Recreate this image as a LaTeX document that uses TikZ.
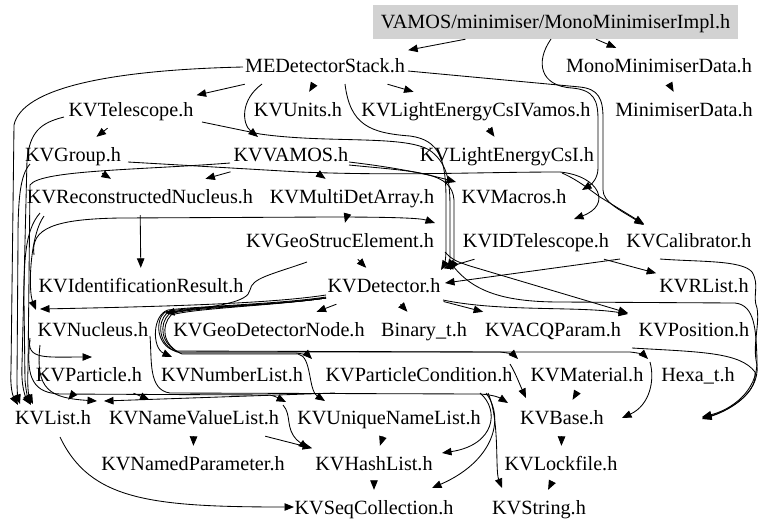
\documentclass[tikz,border=0pt]{standalone}
\usepackage{fontspec}
\setmainfont{Liberation Serif}
\usetikzlibrary{arrows.meta}
\begin{document}
\begin{tikzpicture}[x=1pt,y=-1pt,
 n/.style={font=\fontsize{20.2}{22}\selectfont, inner xsep=3pt, inner ysep=9pt, text height=15pt, text depth=3pt, anchor=center},
 e/.style={draw, line width=0.85pt, -{Triangle[length=9.5pt,width=7.5pt]}}]
\useasboundingbox (0,0) rectangle (768,531);
\node[n,fill=gray!35,minimum width=365pt,minimum height=34pt,inner ysep=0pt] (impl) at (555.5,22) {VAMOS/minimiser/MonoMinimiserImpl.h};
\node[n] (meds) at (325,66) {MEDetectorStack.h};
\node[n] (mmd) at (659,66) {MonoMinimiserData.h};
\node[n] (tele) at (131,110) {KVTelescope.h};
\node[n] (units) at (298,110) {KVUnits.h};
\node[n] (lecv) at (476,110) {KVLightEnergyCsIVamos.h};
\node[n] (md) at (684,110) {MinimiserData.h};
\node[n] (group) at (73,155) {KVGroup.h};
\node[n] (vamos) at (291,155) {KVVAMOS.h};
\node[n] (lec) at (507,155) {KVLightEnergyCsI.h};
\node[n] (recnuc) at (140,197) {KVReconstructedNucleus.h};
\node[n] (mda) at (352,197) {KVMultiDetArray.h};
\node[n] (macros) at (514,197) {KVMacros.h};
\node[n] (gse) at (340,241) {KVGeoStrucElement.h};
\node[n] (idt) at (536,241) {KVIDTelescope.h};
\node[n] (cal) at (689,241) {KVCalibrator.h};
\node[n] (idr) at (141,286) {KVIdentificationResult.h};
\node[n] (det) at (384,286) {KVDetector.h};
\node[n] (rlist) at (704,286) {KVRList.h};
\node[n] (nuc) at (93,330) {KVNucleus.h};
\node[n] (gdn) at (269,330) {KVGeoDetectorNode.h};
\node[n] (bin) at (424,330) {Binary\_t.h};
\node[n] (acq) at (553,330) {KVACQParam.h};
\node[n] (pos) at (694,330) {KVPosition.h};
\node[n] (part) at (89,375) {KVParticle.h};
\node[n] (numl) at (232,375) {KVNumberList.h};
\node[n] (pcond) at (419,375) {KVParticleCondition.h};
\node[n] (mat) at (587,375) {KVMaterial.h};
\node[n] (hexa) at (698,375) {Hexa\_t.h};
\node[n] (list) at (53,418) {KVList.h};
\node[n] (nvl) at (194,418) {KVNameValueList.h};
\node[n] (unl) at (389,418) {KVUniqueNameList.h};
\node[n] (base) at (562,418) {KVBase.h};
\node[n] (np) at (193,464) {KVNamedParameter.h};
\node[n] (hl) at (374,464) {KVHashList.h};
\node[n] (lock) at (561,464) {KVLockfile.h};
\node[n] (seq) at (374,508) {KVSeqCollection.h};
\node[n] (str) at (539,508) {KVString.h};
% straight edges
\path[e] (impl) -- (meds);
\path[e] (impl) -- (mmd);
\path[e] (mmd) -- (md);
\path[e] (meds) -- (tele);
\path[e] (meds) -- (units);
\path[e] (meds) -- (lecv);
\path[e] (lecv) -- (lec);
\path[e] (tele) -- (group);
\path[e] (group) -- (recnuc);
\path[e] (vamos) -- (recnuc);
\path[e] (vamos) -- (mda);
\path[e] (recnuc) -- (idr);
\path[e] (mda) -- (gse);
\path[e] (gse) -- (det);
\path[e] (idt) -- (det);
\path[e] (idt) -- (rlist);
\path[e] (det) -- (gdn);
\path[e] (det) -- (bin);
\path[e] (det) -- (acq);
\path[e] (part) -- (list);
\path[e] (part) -- (nvl);
\path[e] (mat) -- (base);
\path[e] (nvl) -- (np);
\path[e] (nvl) -- (hl);
\path[e] (unl) -- (hl);
\path[e] (hl) -- (seq);
\path[e] (base) -- (lock);
\path[e] (lock) -- (str);
% curved edges
\path[e] (551,39) .. controls (535,62) and (540,86) .. (572,88) .. controls (594,90) and (598,100) .. (598,120) -- (598,168) .. controls (598,178) and (592,184) .. (582,190);
\path[e] (408,71) -- (580,87) .. controls (598,89) and (603,98) .. (603,118) -- (603,190) .. controls (603,202) and (620,210) .. (644,225);
\path[e] (562,173) .. controls (578,180) and (590,190) .. (600,197) -- (644,224);
\path[e] (262,84) .. controls (240,100) and (242,124) .. (258,137);
\path[e] (243,67) .. controls (110,70) and (22,88) .. (14,125) -- (11,370) .. controls (10,388) and (13,396) .. (18,405);
\path[e] (64,117) .. controls (40,123) and (30,132) .. (27,160) -- (22,365) .. controls (21,385) and (25,396) .. (31,405);
\path[e] (230,163) .. controls (140,170) and (40,170) .. (30,185) -- (28,370) .. controls (27,388) and (29,396) .. (33,404);
\path[e] (30,164) .. controls (20,175) and (18,200) .. (18,240) -- (17,380) .. controls (17,392) and (18,398) .. (20,404);
\path[e] (40,213) .. controls (25,230) and (24,260) .. (24,300) -- (25,380) .. controls (26,392) and (28,398) .. (31,404);
\path[e] (44,216) .. controls (30,235) and (28,290) .. (36,310);
\path[e] (326,295) .. controls (280,302) and (200,306) .. (40,309);
\path[e] (345,84) .. controls (350,125) and (370,133) .. (410,136) .. controls (440,140) and (446,160) .. (446,200) -- (446,250) .. controls (446,260) and (444,265) .. (441,270);
\path[e] (202,122) -- (260,134) .. controls (330,144) and (410,134) .. (432,152) .. controls (449,166) and (450,185) .. (450,210) -- (450,255) .. controls (450,262) and (449,266) .. (447,269);
\path[e] (349,162) .. controls (400,168) and (430,175) .. (456,182);
\path[e] (349,165) .. controls (420,172) and (452,172) .. (454,200) -- (454,258) .. controls (454,264) and (452,267) .. (450,270);
\path[e] (128,162) -- (300,172) .. controls (400,176) and (480,172) .. (560,172) .. controls (600,176) and (612,205) .. (574,219);
\path[e] (34,255) .. controls (30,228) and (55,219) .. (120,218) -- (330,217) .. controls (390,217) and (420,218) .. (435,223);
\path[e] (445,252) .. controls (452,260) and (458,262) .. (470,266) -- (628,313);
\path[e] (443,300) .. controls (500,312) and (580,306) .. (628,314);
\path[e] (620,259) -- (445,283);
\path[e] (660,259) .. controls (700,262) and (742,260) .. (752,272) .. controls (760,285) and (752,296) .. (757,308) .. controls (760,325) and (752,345) .. (757,365) .. controls (760,395) and (725,412) .. (702,419);
\path[e] (450,262) .. controls (470,290) and (500,302) .. (560,302) -- (735,303) .. controls (755,305) and (756,330) .. (757,360) .. controls (758,392) and (730,410) .. (702,417);
\path[e] (632,348) .. controls (700,352) and (740,352) .. (755,372) .. controls (758,395) and (725,412) .. (702,418);
\path[e] (326,297) .. controls (280,304) and (200,306) .. (168,310) .. controls (152,315) and (152,348) .. (172,357);
\path[e] (307,262) .. controls (270,275) and (252,278) .. (250,290) .. controls (248,302) and (220,306) .. (165,313);
\path[e] (326,298) .. controls (270,306) and (190,306) .. (165,312) .. controls (155,320) and (156,345) .. (175,351) -- (500,352) .. controls (510,353) and (514,355) .. (518,359);
\path[e] (326,298) .. controls (270,306) and (192,306) .. (167,313) .. controls (157,322) and (158,345) .. (177,352) -- (630,352) .. controls (640,353) and (644,355) .. (648,359);
\path[e] (326,298) .. controls (270,306) and (194,307) .. (169,314) .. controls (159,324) and (160,344) .. (180,353) -- (296,353) .. controls (305,354) and (309,356) .. (312,359);
\path[e] (326,298) .. controls (270,306) and (196,308) .. (171,315) .. controls (161,326) and (162,345) .. (182,354) -- (298,354) .. controls (312,356) and (308,390) .. (325,401);
\path[e] (150,336) .. controls (152,360) and (148,390) .. (170,393) -- (480,394) .. controls (495,395) and (500,398) .. (508,403);
\path[e] (30,340) .. controls (25,380) and (35,393) .. (60,394) -- (270,395) .. controls (278,397) and (280,399) .. (286,402);
\path[e] (30,338) .. controls (26,360) and (45,357) .. (92,357);
\path[e] (335,393) -- (104,401);
\path[e] (40,345) .. controls (35,390) and (50,398) .. (97,401);
\path[e] (510,364) .. controls (515,372) and (520,385) .. (526,398);
\path[e] (650,362) .. controls (655,380) and (650,405) .. (622,418);
\path[e] (480,393) .. controls (500,410) and (495,445) .. (442,453);
\path[e] (486,393) .. controls (506,420) and (492,462) .. (432,488);
\path[e] (488,393) .. controls (500,420) and (495,470) .. (502,488);
\path[e] (283,405) .. controls (292,415) and (285,428) .. (297,440) -- (308,449);
\path[e] (60,437) .. controls (90,500) and (150,507) .. (294,507);
\end{tikzpicture}
\end{document}
